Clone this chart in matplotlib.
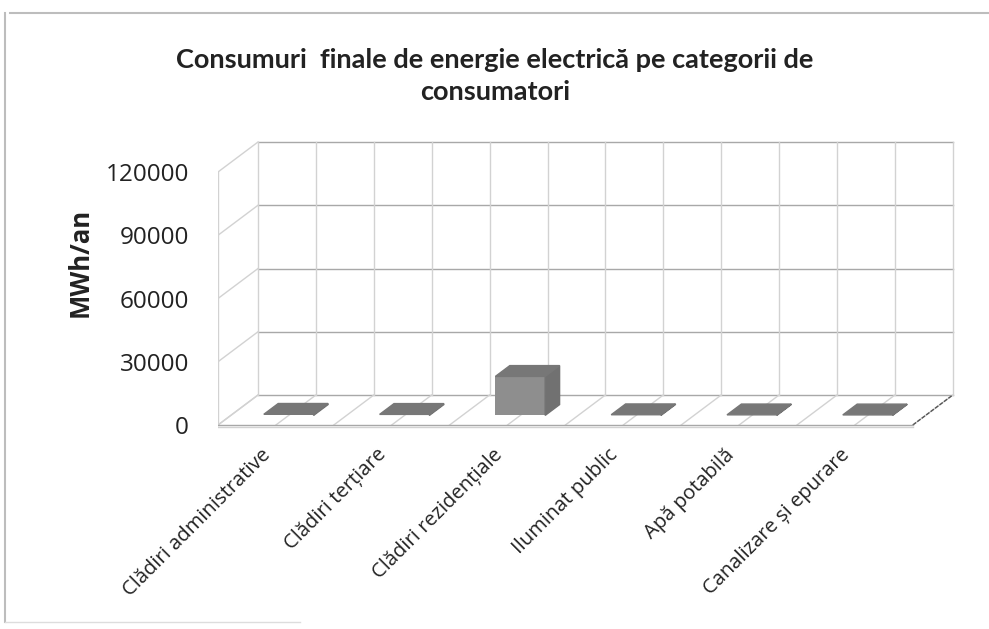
import numpy as np
import matplotlib
matplotlib.use("Agg")
import matplotlib.pyplot as plt
from matplotlib.patches import Polygon
from matplotlib.lines import Line2D

categories = ["Clădiri administrative", "Clădiri terțiare", "Clădiri rezidențiale",
              "Iluminat public", "Apă potabilă", "Canalizare și epurare"]
values = [520, 480, 18500, 310, 260, 230]
yticks = [0, 30000, 60000, 90000, 120000]
title = "Consumuri  finale de energie electrică pe categorii de\nconsumatori"
ylabel = "MWh/an"

plt.rcParams["font.family"] = ["Open Sans", "DejaVu Sans"]
txt_color = "#222222"

W, H = 989, 629
fig = plt.figure(figsize=(W / 100, H / 100), dpi=100)

# pixel layout of the pseudo-3D box (Excel style)
x0_px, cat_px = 218, 115.8
y0_px, ytop_px = 425, 172
depth_px = (40, 30)
ymax = yticks[-1]
px_per_val = (y0_px - ytop_px) / ymax
dx = depth_px[0] / cat_px
dy = depth_px[1] / px_per_val

right_px, top_px, bot_px = 962, 136, 432
xmax = (right_px - x0_px) / cat_px
ylo = -(bot_px - y0_px) / px_per_val
yhi = (y0_px - top_px) / px_per_val
ax = fig.add_axes([x0_px / W, (H - bot_px) / H, (right_px - x0_px) / W, (bot_px - top_px) / H])
ax.set_xlim(0, xmax)
ax.set_ylim(ylo, yhi)
for s in ax.spines.values():
    s.set_visible(False)
ax.set_xticks([])
ax.set_yticks(yticks)
ax.set_yticklabels([str(v) for v in yticks], fontweight="medium")
ax.tick_params(axis="y", length=0, pad=21, labelsize=17.5, labelcolor=txt_color)

n = len(categories)
grid_dark = "#a8a8a8"
grid_light = "#d2d2d2"

# back wall + left wall
for v in yticks:
    ax.plot([dx, n + dx], [v + dy, v + dy], color=grid_dark, lw=1.0, zorder=1)
    ax.plot([0, dx], [v, v + dy], color=grid_light, lw=1.0, zorder=1)
ax.plot([0, 0], [0, ymax], color=grid_light, lw=1.0, zorder=1)
for k in range(2 * n + 1):
    xk = k * 0.5
    ax.plot([xk + dx, xk + dx], [dy, ymax + dy], color=grid_light, lw=1.0, zorder=1)
    ax.plot([xk, xk + dx], [0, dy], color=grid_light, lw=1.0, zorder=1)
ax.plot([n, n + dx], [0, dy], color="#555555", lw=1.0, ls=(0, (3, 1)), zorder=2)
# floor front edge (slab)
ax.plot([0, n], [0, 0], color=grid_dark, lw=1.0, zorder=2)
ax.plot([0, n], [-900, -900], color=grid_light, lw=1.0, zorder=2)

# 3D columns
a, b, w = 0.32, 0.68, 0.43
for i, v in enumerate(values):
    xc = i + 0.5 + a * dx
    x1 = xc - w / 2
    x2 = xc + w / 2
    ddx, ddy = (b - a) * dx, (b - a) * dy
    ax.bar(xc, v, width=w, bottom=a * dy, color="#8e8e8e", zorder=3)
    ax.add_patch(Polygon([(x2, a * dy), (x2 + ddx, b * dy), (x2 + ddx, b * dy + v), (x2, a * dy + v)],
                         closed=True, color="#717171", zorder=3))
    ax.add_patch(Polygon([(x1, a * dy + v), (x2, a * dy + v), (x2 + ddx, b * dy + v), (x1 + ddx, b * dy + v)],
                         closed=True, color="#777777", zorder=4))

# category labels, rotated 45 deg, right end near the category position
for i, lab in enumerate(categories):
    xp = x0_px + (i + 0.5) * cat_px - 8
    yp = 452
    fig.text(xp / W, 1 - yp / H, lab, rotation=45, rotation_mode="anchor",
             ha="right", va="center", fontsize=14.5, fontweight="medium", color=txt_color)

fig.text(80 / W, 1 - 262 / H, ylabel, rotation=90, ha="center", va="center",
         fontsize=18.5, fontweight="bold", color=txt_color)
fig.text(495 / W, 1 - 76 / H, title, ha="center", va="center", fontsize=19.5,
         fontweight="bold", color=txt_color, linespacing=1.45, family=["Lato", "DejaVu Sans"])

# outer chart border (scanned, partly visible)
fig.add_artist(Line2D([10 / W, 1], [1 - 13 / H, 1 - 13 / H], color="#bdbdbd", lw=1.5))
fig.add_artist(Line2D([5 / W, 5 / W], [1 - 13 / H, 1 - 622 / H], color="#bdbdbd", lw=1.5))
fig.add_artist(Line2D([5 / W, 300 / W], [1 - 622 / H, 1 - 622 / H], color="#dddddd", lw=1.0))

fig.savefig("out.png", dpi=100, facecolor="white")
